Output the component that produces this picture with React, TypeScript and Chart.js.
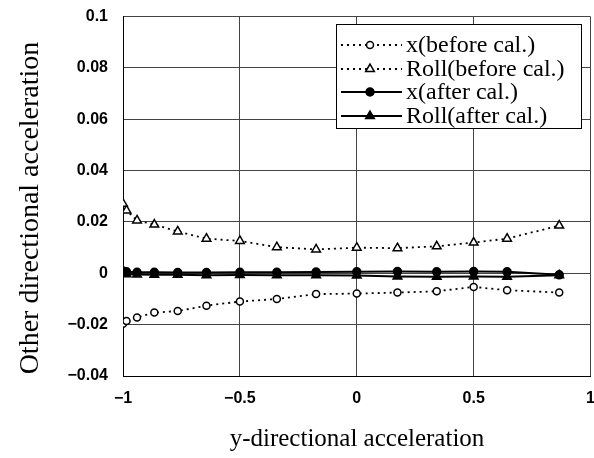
import React, { useEffect, useRef } from "react";
import { Chart, registerables } from "chart.js";

Chart.register(...registerables);

const yAccel = [-1, -0.985, -0.94, -0.866, -0.766, -0.643, -0.5, -0.342, -0.174, 0, 0.174, 0.342, 0.5, 0.643, 0.866];
const xBefore = [-0.0196, -0.0186, -0.0172, -0.0153, -0.0147, -0.0126, -0.011, -0.01, -0.0081, -0.0079, -0.0075, -0.007, -0.0053, -0.0066, -0.0075];
const rollBefore = [0.0271, 0.0245, 0.0206, 0.019, 0.0163, 0.0135, 0.0126, 0.0102, 0.0093, 0.01, 0.0098, 0.0105, 0.012, 0.0135, 0.0186];
const xAfter = [0.0009, 0.0006, 0.0004, 0.0004, 0.0003, 0.0003, 0.0004, 0.0004, 0.0005, 0.0006, 0.0007, 0.0006, 0.0007, 0.0006, -0.0006];
const rollAfter = [0.0002, -0.0004, -0.0005, -0.0006, -0.0006, -0.0008, -0.0007, -0.0008, -0.0008, -0.0009, -0.0012, -0.0013, -0.0012, -0.0013, -0.0008];

const seriesNames = ["x(before cal.)", "Roll(before cal.)", "x(after cal.)", "Roll(after cal.)"];
const xTitle = "y-directional acceleration";
const yTitle = "Other directional acceleration";

const SHIFT = 8; // canvas is placed 8px above the page top

const toPts = (ys: number[]) => yAccel.map((x, i) => ({ x, y: ys[i] }));

const fmt = (v: number) => {
  const r = Math.round(v * 1000) / 1000;
  return String(r).replace("-", "\u2212");
};

function drawMarker(ctx: CanvasRenderingContext2D, style: string, x: number, y: number, r: number, fill: string) {
  ctx.beginPath();
  if (style === "circle") {
    ctx.arc(x, y, r, 0, Math.PI * 2);
  } else {
    let rad = 0;
    ctx.moveTo(x + Math.sin(rad) * r, y - Math.cos(rad) * r);
    rad += (2 * Math.PI) / 3;
    ctx.lineTo(x + Math.sin(rad) * r, y - Math.cos(rad) * r);
    rad += (2 * Math.PI) / 3;
    ctx.lineTo(x + Math.sin(rad) * r, y - Math.cos(rad) * r);
    ctx.closePath();
  }
  ctx.fillStyle = fill;
  ctx.fill();
  ctx.lineWidth = 1.5;
  ctx.strokeStyle = "#000";
  ctx.stroke();
}

const overlay = {
  id: "overlay",
  afterDraw(chart: any) {
    const ctx: CanvasRenderingContext2D = chart.ctx;
    ctx.save();
    ctx.translate(0, SHIFT);
    ctx.fillStyle = "#000";
    ctx.textAlign = "center";
    ctx.textBaseline = "middle";
    ctx.font = "25px 'Liberation Serif', serif";
    ctx.fillText(xTitle, 357, 439);
    ctx.save();
    ctx.translate(31, 208);
    ctx.rotate(-Math.PI / 2);
    ctx.font = "28px 'Liberation Serif', serif";
    ctx.fillText(yTitle, 0, 0);
    ctx.restore();

    // legend
    const bx = 336, by = 24, bw = 245, bh = 104;
    ctx.fillStyle = "#fff";
    ctx.fillRect(bx, by, bw, bh);
    ctx.strokeStyle = "#000";
    ctx.lineWidth = 1;
    ctx.strokeRect(bx + 0.5, by + 0.5, bw, bh);
    const rows = [45, 69, 92, 116];
    chart.data.datasets.forEach((ds: any, i: number) => {
      const y = rows[i];
      ctx.save();
      ctx.strokeStyle = "#000";
      ctx.lineWidth = ds.borderWidth;
      ctx.setLineDash(ds.borderDash || []);
      ctx.beginPath();
      ctx.moveTo(341, y);
      ctx.lineTo(402, y);
      ctx.stroke();
      ctx.setLineDash([]);
      drawMarker(ctx, ds.pointStyle, 370, y, ds.pointRadius, ds.pointBackgroundColor);
      ctx.restore();
      ctx.fillStyle = "#000";
      ctx.textAlign = "left";
      ctx.textBaseline = "middle";
      ctx.font = "24px 'Liberation Serif', serif";
      ctx.fillText(ds.label, 406, y + 1);
    });
    ctx.restore();
  },
};

export default function App() {
  const ref = useRef<HTMLCanvasElement>(null);
  useEffect(() => {
    if (!ref.current) return;
    const common = { borderColor: "#000", pointBorderColor: "#000", pointBorderWidth: 1.5, showLine: true, tension: 0 };
    const chart = new Chart(ref.current, {
      type: "scatter",
      data: {
        datasets: [
          { ...common, label: seriesNames[0], data: toPts(xBefore), borderWidth: 1.8, borderDash: [2, 4], pointStyle: "circle", pointRadius: 3.5, pointBackgroundColor: "#fff" },
          { ...common, label: seriesNames[1], data: toPts(rollBefore), borderWidth: 1.8, borderDash: [2, 4], pointStyle: "triangle", pointRadius: 5, pointBackgroundColor: "#fff" },
          { ...common, label: seriesNames[2], data: toPts(xAfter), borderWidth: 2, pointStyle: "circle", pointRadius: 4, pointBackgroundColor: "#000" },
          { ...common, label: seriesNames[3], data: toPts(rollAfter), borderWidth: 2, pointStyle: "triangle", pointRadius: 5, pointBackgroundColor: "#000" },
        ] as any,
      },
      options: {
        animation: false,
        responsive: false,
        layout: { padding: { left: 0, top: 8, right: 4, bottom: 0 } },
        plugins: { legend: { display: false }, tooltip: { enabled: false } },
        scales: {
          x: {
            type: "linear",
            min: -1,
            max: 1,
            afterFit: (s: any) => { s.height = 82; },
            ticks: { stepSize: 0.5, color: "#000", padding: 13, font: { family: "'Liberation Sans', Arial, sans-serif", size: 16, weight: "bold" }, callback: (v: any) => fmt(Number(v)), maxRotation: 0 },
            grid: { color: "#444", lineWidth: 1, drawTicks: false },
            border: { color: "#000", width: 1 },
          },
          y: {
            type: "linear",
            min: -0.04,
            max: 0.1,
            afterFit: (s: any) => { s.width = 123; },
            ticks: { stepSize: 0.02, color: "#000", padding: 15, font: { family: "'Liberation Sans', Arial, sans-serif", size: 16, weight: "bold" }, callback: (v: any) => fmt(Number(v)) },
            grid: { color: "#444", lineWidth: 1, drawTicks: false },
            border: { color: "#000", width: 1 },
          },
        },
      },
      plugins: [overlay],
    });
    return () => chart.destroy();
  }, []);
  return (
    <div style={{ position: "absolute", left: 0, top: 0, width: 594, height: 458, overflow: "hidden", background: "#fff" }}>
      <canvas ref={ref} width={608} height={458 + SHIFT} style={{ display: "block", marginTop: -SHIFT }} />
    </div>
  );
}
